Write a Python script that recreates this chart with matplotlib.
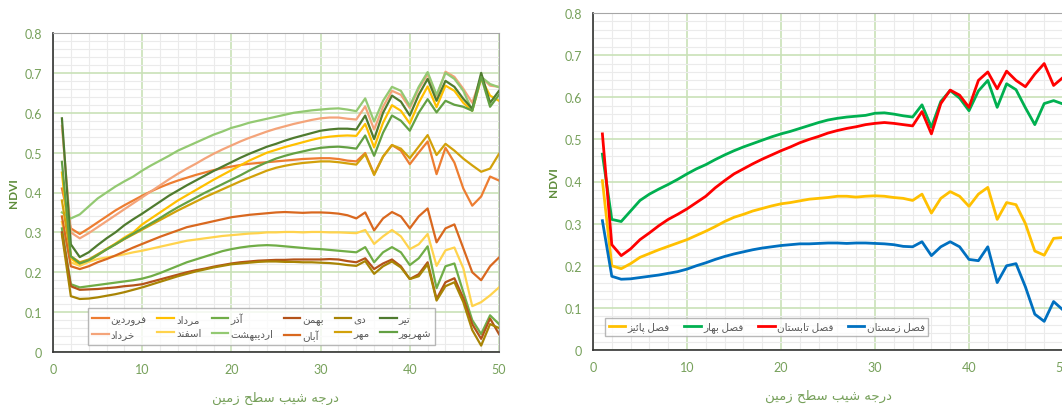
import matplotlib
matplotlib.use('Agg')
import matplotlib.pyplot as plt
import numpy as np
from matplotlib.ticker import MultipleLocator, FuncFormatter

plt.rcParams['font.family'] = ['Lato', 'DejaVu Sans']

# slope degree (x axis)
deg = np.arange(1, 51)

# ---- monthly NDVI (left chart) ----
farvardin = [0.41, 0.31, 0.296, 0.31, 0.325, 0.34, 0.355, 0.368, 0.38, 0.392,
             0.403, 0.413, 0.422, 0.43, 0.437, 0.444, 0.45, 0.456, 0.461, 0.465,
             0.469, 0.472, 0.474, 0.476, 0.478, 0.48, 0.482, 0.484, 0.485, 0.486,
             0.486, 0.484, 0.48, 0.478, 0.499, 0.446, 0.49, 0.519, 0.505, 0.471,
             0.50, 0.528, 0.446, 0.512, 0.475, 0.41, 0.367, 0.39, 0.44, 0.43]
ordibehesht = [0.35, 0.335, 0.345, 0.365, 0.385, 0.40, 0.415, 0.428, 0.44, 0.455,
               0.468, 0.48, 0.492, 0.505, 0.515, 0.525, 0.535, 0.545, 0.553, 0.562,
               0.568, 0.575, 0.58, 0.585, 0.59, 0.595, 0.60, 0.603, 0.606, 0.608,
               0.61, 0.611, 0.608, 0.604, 0.636, 0.578, 0.63, 0.665, 0.655, 0.617,
               0.665, 0.702, 0.645, 0.70, 0.685, 0.655, 0.605, 0.69, 0.672, 0.664]
khordad = [0.567, 0.30, 0.285, 0.298, 0.313, 0.328, 0.343, 0.358, 0.373, 0.388,
           0.403, 0.418, 0.433, 0.447, 0.46, 0.472, 0.485, 0.497, 0.508, 0.518,
           0.528, 0.537, 0.545, 0.553, 0.56, 0.566, 0.572, 0.577, 0.582, 0.586,
           0.588, 0.588, 0.585, 0.583, 0.616, 0.558, 0.615, 0.655, 0.645, 0.612,
           0.66, 0.697, 0.64, 0.703, 0.69, 0.66, 0.625, 0.69, 0.668, 0.665]
tir = [0.586, 0.27, 0.238, 0.25, 0.268, 0.285, 0.30, 0.318, 0.333, 0.347,
       0.362, 0.377, 0.392, 0.405, 0.418, 0.43, 0.442, 0.454, 0.465, 0.476,
       0.487, 0.497, 0.506, 0.515, 0.522, 0.53, 0.537, 0.543, 0.549, 0.555,
       0.558, 0.56, 0.56, 0.558, 0.593, 0.534, 0.60, 0.643, 0.628, 0.593,
       0.645, 0.685, 0.63, 0.68, 0.665, 0.635, 0.61, 0.70, 0.625, 0.655]
mordad = [0.45, 0.235, 0.218, 0.228, 0.243, 0.258, 0.272, 0.287, 0.30, 0.32,
          0.335, 0.35, 0.365, 0.38, 0.393, 0.406, 0.419, 0.432, 0.444, 0.456,
          0.468, 0.48, 0.49, 0.50, 0.507, 0.514, 0.52, 0.526, 0.532, 0.537,
          0.54, 0.542, 0.543, 0.542, 0.572, 0.513, 0.575, 0.619, 0.605, 0.573,
          0.625, 0.666, 0.614, 0.668, 0.655, 0.625, 0.605, 0.685, 0.643, 0.63]
shahrivar = [0.477, 0.24, 0.222, 0.23, 0.243, 0.257, 0.27, 0.284, 0.297, 0.31,
             0.323, 0.336, 0.35, 0.363, 0.375, 0.387, 0.399, 0.41, 0.421, 0.432,
             0.443, 0.455, 0.466, 0.476, 0.485, 0.492, 0.498, 0.503, 0.508, 0.512,
             0.514, 0.515, 0.513, 0.51, 0.543, 0.492, 0.55, 0.593, 0.58, 0.555,
             0.60, 0.634, 0.601, 0.63, 0.62, 0.615, 0.605, 0.69, 0.615, 0.645]
mehr = [0.38, 0.24, 0.225, 0.232, 0.245, 0.258, 0.27, 0.283, 0.295, 0.307,
        0.319, 0.331, 0.343, 0.355, 0.366, 0.377, 0.388, 0.398, 0.408, 0.418,
        0.428, 0.437, 0.446, 0.455, 0.462, 0.467, 0.471, 0.474, 0.476, 0.478,
        0.478, 0.476, 0.473, 0.47, 0.496, 0.444, 0.49, 0.519, 0.51, 0.486,
        0.515, 0.544, 0.494, 0.522, 0.505, 0.485, 0.468, 0.452, 0.46, 0.497]
aban = [0.34, 0.215, 0.208, 0.215, 0.225, 0.233, 0.242, 0.252, 0.262, 0.271,
        0.28, 0.289, 0.297, 0.305, 0.313, 0.318, 0.323, 0.328, 0.333, 0.338,
        0.341, 0.344, 0.346, 0.348, 0.35, 0.351, 0.35, 0.349, 0.35, 0.35,
        0.349, 0.347, 0.343, 0.335, 0.35, 0.305, 0.335, 0.351, 0.34, 0.31,
        0.34, 0.36, 0.275, 0.31, 0.32, 0.26, 0.20, 0.18, 0.215, 0.237]
azar = [0.31, 0.17, 0.162, 0.165, 0.168, 0.171, 0.174, 0.177, 0.18, 0.184,
        0.19, 0.198, 0.207, 0.216, 0.225, 0.232, 0.239, 0.246, 0.253, 0.258,
        0.262, 0.265, 0.267, 0.268, 0.267, 0.265, 0.263, 0.261, 0.259, 0.258,
        0.256, 0.254, 0.252, 0.25, 0.263, 0.225, 0.25, 0.263, 0.25, 0.218,
        0.235, 0.265, 0.16, 0.215, 0.222, 0.15, 0.08, 0.045, 0.092, 0.07]
dey = [0.295, 0.14, 0.133, 0.134, 0.137, 0.141, 0.145, 0.15, 0.156, 0.162,
       0.169, 0.176, 0.183, 0.19, 0.196, 0.202, 0.207, 0.212, 0.216, 0.22,
       0.222, 0.224, 0.226, 0.227, 0.227, 0.226, 0.226, 0.225, 0.225, 0.224,
       0.223, 0.221, 0.218, 0.216, 0.228, 0.196, 0.215, 0.227, 0.212, 0.183,
       0.19, 0.22, 0.129, 0.165, 0.175, 0.125, 0.055, 0.016, 0.07, 0.06]
bahman = [0.30, 0.165, 0.156, 0.157, 0.158, 0.16, 0.162, 0.165, 0.167, 0.17,
          0.176, 0.182, 0.188, 0.194, 0.20, 0.205, 0.209, 0.214, 0.218, 0.222,
          0.225, 0.227, 0.229, 0.23, 0.231, 0.231, 0.232, 0.232, 0.232, 0.232,
          0.233, 0.232, 0.228, 0.225, 0.235, 0.208, 0.222, 0.232, 0.215, 0.183,
          0.195, 0.225, 0.133, 0.175, 0.185, 0.135, 0.07, 0.033, 0.084, 0.045]
esfand = [0.326, 0.225, 0.216, 0.226, 0.233, 0.237, 0.241, 0.245, 0.25, 0.254,
          0.259, 0.264, 0.269, 0.274, 0.279, 0.282, 0.285, 0.288, 0.291, 0.293,
          0.295, 0.297, 0.298, 0.30, 0.30, 0.301, 0.301, 0.30, 0.301, 0.301,
          0.30, 0.30, 0.299, 0.298, 0.306, 0.271, 0.29, 0.306, 0.29, 0.258,
          0.27, 0.296, 0.216, 0.255, 0.262, 0.21, 0.115, 0.125, 0.142, 0.162]

# ---- seasonal NDVI (right chart) ----
paeez = [0.402, 0.20, 0.193, 0.205, 0.22, 0.229, 0.238, 0.246, 0.254, 0.262,
         0.272, 0.282, 0.293, 0.305, 0.315, 0.322, 0.33, 0.336, 0.342, 0.347,
         0.35, 0.354, 0.358, 0.36, 0.362, 0.365, 0.365, 0.363, 0.365, 0.366,
         0.365, 0.362, 0.36, 0.355, 0.37, 0.325, 0.36, 0.376, 0.365, 0.341,
         0.37, 0.386, 0.31, 0.35, 0.345, 0.30, 0.235, 0.225, 0.265, 0.267]
bahar = [0.465, 0.31, 0.305, 0.33, 0.355, 0.37, 0.382, 0.393, 0.405, 0.418,
         0.43, 0.44, 0.452, 0.463, 0.473, 0.482, 0.49, 0.498, 0.506, 0.513,
         0.519, 0.526, 0.533, 0.54, 0.546, 0.55, 0.553, 0.555, 0.557, 0.562,
         0.563, 0.56, 0.556, 0.553, 0.582, 0.529, 0.59, 0.616, 0.598, 0.568,
         0.615, 0.64, 0.576, 0.632, 0.618, 0.575, 0.535, 0.585, 0.592, 0.584]
tabestan = [0.513, 0.25, 0.224, 0.24, 0.262, 0.278, 0.295, 0.31, 0.322, 0.335,
            0.35, 0.365, 0.385, 0.402, 0.418, 0.43, 0.442, 0.453, 0.463, 0.473,
            0.482, 0.492, 0.50, 0.507, 0.515, 0.521, 0.526, 0.53, 0.535, 0.538,
            0.54, 0.538, 0.535, 0.532, 0.566, 0.513, 0.585, 0.617, 0.605, 0.576,
            0.64, 0.66, 0.62, 0.662, 0.64, 0.625, 0.655, 0.68, 0.628, 0.647]
zemestan = [0.307, 0.175, 0.168, 0.169, 0.172, 0.175, 0.178, 0.182, 0.186, 0.192,
            0.20, 0.207, 0.215, 0.222, 0.228, 0.233, 0.238, 0.242, 0.245, 0.248,
            0.25, 0.252, 0.252, 0.253, 0.254, 0.254, 0.253, 0.254, 0.254, 0.253,
            0.252, 0.25, 0.246, 0.245, 0.257, 0.224, 0.245, 0.257, 0.245, 0.215,
            0.212, 0.245, 0.16, 0.20, 0.205, 0.15, 0.085, 0.068, 0.115, 0.095]

# legend order (matplotlib fills column by column)
month_names = ['فروردین', 'خرداد', 'مرداد', 'اسفند', 'آذر', 'اردیبهشت',
               'بهمن', 'آبان', 'دی', 'مهر', 'تیر', 'شهریور']
month_data = [farvardin, khordad, mordad, esfand, azar, ordibehesht,
              bahman, aban, dey, mehr, tir, shahrivar]
month_colors = ['#ED7D31', '#F4A47A', '#FFC000', '#FFD34D', '#70AD47', '#93C972',
                '#B4531A', '#D9681F', '#A88404', '#D2A10A', '#4F7B2F', '#63A043']

season_names = ['فصل پائیز', 'فصل بهار', 'فصل تابستان', 'فصل زمستان']
season_data = [paeez, bahar, tabestan, zemestan]
season_colors = ['#FFC000', '#00B050', '#FF0000', '#0070C0']

xlabel = 'درجه شیب سطح زمین'

# simple persian shaping (matplotlib has no arabic text layout)
FORMS = {
    'ا': ('\uFE8D', '\uFE8E'), 'آ': ('\uFE81', '\uFE82'),
    'د': ('\uFEA9', '\uFEAA'), 'ذ': ('\uFEAB', '\uFEAC'),
    'ر': ('\uFEAD', '\uFEAE'), 'ز': ('\uFEAF', '\uFEB0'),
    'و': ('\uFEED', '\uFEEE'),
    'ب': ('\uFE8F', '\uFE90', '\uFE91', '\uFE92'),
    'پ': ('\uFB56', '\uFB57', '\uFB58', '\uFB59'),
    'ت': ('\uFE95', '\uFE96', '\uFE97', '\uFE98'),
    'ج': ('\uFE9D', '\uFE9E', '\uFE9F', '\uFEA0'),
    'ح': ('\uFEA1', '\uFEA2', '\uFEA3', '\uFEA4'),
    'خ': ('\uFEA5', '\uFEA6', '\uFEA7', '\uFEA8'),
    'س': ('\uFEB1', '\uFEB2', '\uFEB3', '\uFEB4'),
    'ش': ('\uFEB5', '\uFEB6', '\uFEB7', '\uFEB8'),
    'ص': ('\uFEB9', '\uFEBA', '\uFEBB', '\uFEBC'),
    'ط': ('\uFEC1', '\uFEC2', '\uFEC3', '\uFEC4'),
    'ف': ('\uFED1', '\uFED2', '\uFED3', '\uFED4'),
    'ل': ('\uFEDD', '\uFEDE', '\uFEDF', '\uFEE0'),
    'م': ('\uFEE1', '\uFEE2', '\uFEE3', '\uFEE4'),
    'ن': ('\uFEE5', '\uFEE6', '\uFEE7', '\uFEE8'),
    'ه': ('\uFEE9', '\uFEEA', '\uFEEB', '\uFEEC'),
    'ئ': ('\uFE89', '\uFE8A', '\uFE8B', '\uFE8C'),
    'ی': ('\uFBFC', '\uFBFD', '\uFBFE', '\uFBFF'),
}


def fa(s):
    out = []
    for i, ch in enumerate(s):
        f = FORMS.get(ch)
        if f is None:
            out.append(ch)
            continue
        prev = s[i - 1] if i > 0 else ''
        nxt = s[i + 1] if i + 1 < len(s) else ''
        jp = prev in FORMS and len(FORMS[prev]) == 4
        jn = len(f) == 4 and nxt in FORMS
        if jp and jn:
            out.append(f[3])
        elif jp:
            out.append(f[1])
        elif jn:
            out.append(f[2])
        else:
            out.append(f[0])
    return ''.join(out)[::-1]


tick_green = '#76A05A'
fig = plt.figure(figsize=(10.62, 4.06), dpi=100)
ax1 = fig.add_axes([53/1062, 1-353/406, 446/1062, 319/406])
ax2 = fig.add_axes([593/1062, 1-351/406, 470/1062, 337/406])


def style(ax):
    ax.set_xlim(0, 50)
    ax.set_ylim(0, 0.8)
    ax.xaxis.set_major_locator(MultipleLocator(10))
    ax.xaxis.set_minor_locator(MultipleLocator(2))
    ax.yaxis.set_major_locator(MultipleLocator(0.1))
    ax.yaxis.set_minor_locator(MultipleLocator(0.02))
    ax.yaxis.set_major_formatter(FuncFormatter(lambda v, p: '0' if abs(v) < 1e-9 else f'{v:.1f}'))
    ax.grid(which='minor', color='#EBEBEB', lw=0.8, zorder=0)
    ax.grid(which='major', color='#C9E2B8', lw=1.2, zorder=0)
    ax.set_axisbelow(True)
    ax.tick_params(which='both', length=0, labelsize=9, labelcolor=tick_green, pad=8)
    for s in ['top', 'right']:
        ax.spines[s].set_color('#A6A6A6')
    for s in ['left', 'bottom']:
        ax.spines[s].set_color('#333333')
        ax.spines[s].set_linewidth(1.2)
    ax.set_xlabel(fa(xlabel), fontsize=9.5, color=tick_green, labelpad=11,
                  family='DejaVu Sans')
    ax.set_ylabel('NDVI', fontsize=8.5, color='#5E8C3A', fontweight='bold', labelpad=4)


for name, vals, c in zip(month_names, month_data, month_colors):
    ax1.plot(deg, vals, color=c, lw=1.6, label=fa(name), solid_joinstyle='round')
style(ax1)
leg1 = ax1.legend(ncol=6, loc='lower left', bbox_to_anchor=(0.078, 0.022), borderaxespad=0,
                  fontsize=7.5, frameon=True, fancybox=False, edgecolor='#A6A6A6',
                  handlelength=1.6, handletextpad=0.2, columnspacing=1.0,
                  labelspacing=0.45, borderpad=0.4, labelcolor='#595959')
leg1.get_frame().set_linewidth(1.0)

for name, vals, c in zip(season_names, season_data, season_colors):
    ax2.plot(deg, vals, color=c, lw=2.0, label=fa(name), solid_joinstyle='round')
style(ax2)
leg2 = ax2.legend(ncol=4, loc='lower left', bbox_to_anchor=(0.0255, 0.0415), borderaxespad=0,
                  fontsize=7.5, frameon=True, fancybox=False, edgecolor='#A6A6A6',
                  handlelength=1.6, handletextpad=0.2, columnspacing=1.4,
                  borderpad=0.35, labelcolor='#595959')
leg2.get_frame().set_linewidth(1.0)

fig.savefig('out.png', dpi=100)
